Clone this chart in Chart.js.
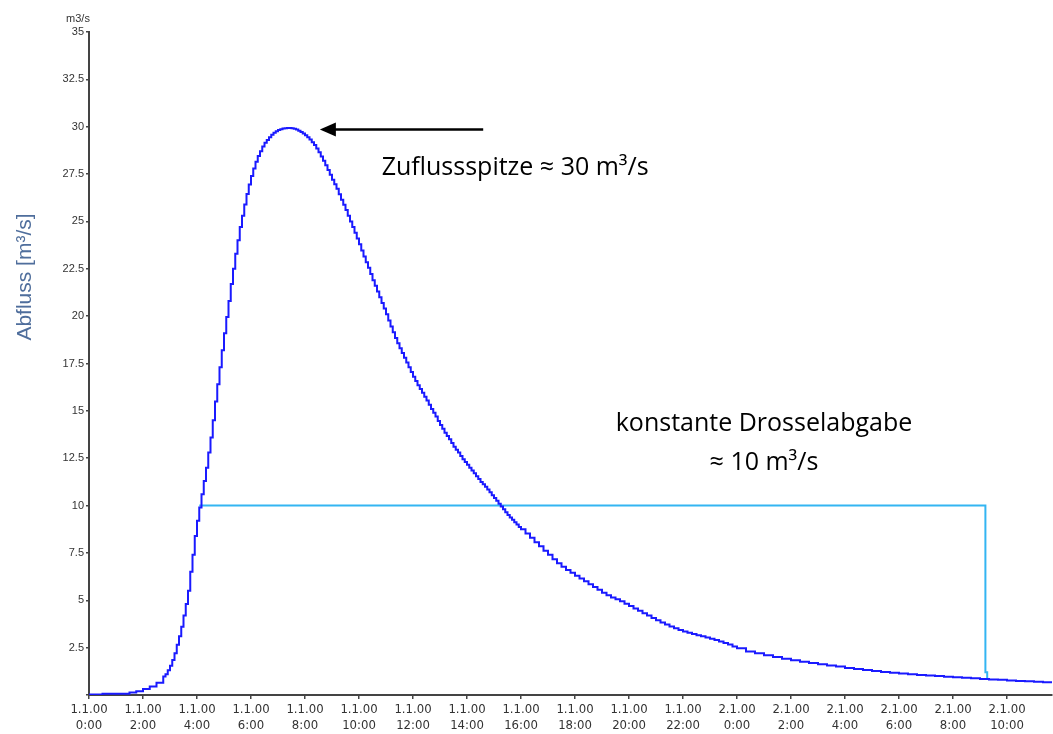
<!DOCTYPE html>
<html>
<head>
<meta charset="utf-8">
<script src="https://cdn.jsdelivr.net/npm/chart.js@4"></script>
<style>
  html, body { margin: 0; padding: 0; background: #fff; }
  #wrap { width: 1053px; height: 734px; }
</style>
</head>
<body>
<div id="wrap"><canvas id="myChart" width="1053" height="734"></canvas></div>
<script>
// Zeit in Minuten ab 1.1.00 0:00
const inflowMin = [
    0, 30, 60, 90, 105, 120, 135, 150, 165,
    170, 175, 180, 185, 190, 195, 200, 205, 210, 215, 220, 225, 230, 235, 240,
    245, 250, 255, 260, 265, 270, 275, 280, 285, 290, 295, 300,
    305, 310, 315, 320, 325, 330, 335, 340, 345, 350, 355, 360,
    365, 370, 375, 380, 385, 390, 395, 400, 405, 410, 415, 420,
    425, 430, 435, 440, 445, 450, 455, 460, 465, 470, 475, 480,
    485, 490, 495, 500, 505, 510, 515, 520, 525, 530, 535, 540,
    545, 550, 555, 560, 565, 570, 575, 580, 585, 590, 595, 600,
    605, 610, 615, 620, 625, 630, 635, 640, 645, 650, 655, 660,
    665, 670, 675, 680, 685, 690, 695, 700, 705, 710, 715, 720,
    725, 730, 735, 740, 745, 750, 755, 760, 765, 770, 775, 780,
    785, 790, 795, 800, 805, 810, 815, 820, 825, 830, 835, 840,
    845, 850, 855, 860, 865, 870, 875, 880, 885, 890, 895, 900,
    905, 910, 915, 920, 925, 930, 935, 940, 945, 950, 955, 960,
    970, 980, 990, 1000, 1010, 1020,
    1030, 1040, 1050, 1060, 1070, 1080,
    1090, 1100, 1110, 1120, 1130, 1140,
    1150, 1160, 1170, 1180, 1190, 1200,
    1210, 1220, 1230, 1240, 1250, 1260,
    1270, 1280, 1290, 1300, 1310, 1320,
    1330, 1340, 1350, 1360, 1370, 1380,
    1390, 1400, 1410, 1420, 1430, 1440,
    1460, 1480, 1500, 1520, 1540, 1560,
    1580, 1600, 1620, 1640, 1660, 1680,
    1700, 1720, 1740, 1760, 1780, 1800,
    1820, 1840, 1860, 1880, 1900, 1920,
    1940, 1960, 1980, 2000, 2020, 2040,
    2060, 2080, 2100, 2120, 2140
];
// Zufluss [m3/s]
const inflow = [
    0.02, 0.06, 0.07, 0.13, 0.2, 0.32, 0.45, 0.65, 0.98,
    1.1, 1.3, 1.55, 1.85, 2.2, 2.65, 3.1, 3.6, 4.2, 4.8, 5.5, 6.5, 7.4, 8.4, 9.2,
    9.9, 10.6, 11.3, 12.0, 12.8, 13.6, 14.5, 15.5, 16.4, 17.3, 18.2, 19.1,
    19.95, 20.8, 21.7, 22.5, 23.3, 24.0, 24.7, 25.3, 25.9, 26.45, 26.95, 27.4,
    27.8, 28.15, 28.45, 28.7, 28.95, 29.15, 29.3, 29.45, 29.57, 29.68, 29.76, 29.83,
    29.87, 29.9, 29.92, 29.93, 29.93, 29.92, 29.89, 29.85, 29.79, 29.72, 29.64, 29.55,
    29.44, 29.32, 29.18, 29.03, 28.85, 28.65, 28.43, 28.2, 27.96, 27.72, 27.46, 27.2,
    26.96, 26.72, 26.44, 26.15, 25.88, 25.6, 25.3, 25.0, 24.7, 24.4, 24.1, 23.8,
    23.47, 23.15, 22.85, 22.55, 22.22, 21.9, 21.6, 21.3, 21.0, 20.7, 20.4, 20.1,
    19.77, 19.45, 19.15, 18.85, 18.57, 18.3, 18.05, 17.8, 17.55, 17.3, 17.05, 16.8,
    16.57, 16.35, 16.15, 15.95, 15.75, 15.55, 15.32, 15.1, 14.9, 14.7, 14.47, 14.25,
    14.05, 13.85, 13.67, 13.5, 13.3, 13.1, 12.95, 12.8, 12.62, 12.45, 12.3, 12.15,
    12.0, 11.85, 11.7, 11.55, 11.4, 11.25, 11.12, 11.0, 10.85, 10.7, 10.55, 10.4,
    10.25, 10.1, 9.95, 9.8, 9.65, 9.5, 9.37, 9.25, 9.12, 9.0, 8.87, 8.75,
    8.52, 8.3, 8.07, 7.85, 7.62, 7.4,
    7.17, 6.95, 6.77, 6.6, 6.45, 6.3,
    6.15, 6.0, 5.85, 5.7, 5.55, 5.4,
    5.27, 5.15, 5.05, 4.95, 4.82, 4.7,
    4.57, 4.45, 4.32, 4.2, 4.07, 3.95,
    3.83, 3.72, 3.62, 3.52, 3.43, 3.35,
    3.28, 3.22, 3.16, 3.1, 3.03, 2.97,
    2.9, 2.82, 2.74, 2.66, 2.56, 2.47,
    2.3, 2.2, 2.1, 2.0, 1.92, 1.84,
    1.76, 1.69, 1.62, 1.56, 1.5, 1.43,
    1.37, 1.32, 1.27, 1.22, 1.18, 1.14,
    1.1, 1.06, 1.03, 1.0, 0.97, 0.94,
    0.91, 0.88, 0.85, 0.82, 0.8, 0.77,
    0.74, 0.72, 0.7, 0.67, 0.64
];
// Drosselabgabe
const outflowMin = [245, 1992, 1996];
const outflow = [10, 1.2, 0.82];

// Achsen
const xMax = 2140;
const dayLabels = ['1.1.00', '2.1.00'];
const yTicksStep = 2.5;

const toPoints = (xs, ys) => xs.map((x, i) => ({ x: x, y: ys[i] }));

const labelsPlugin = {
    id: 'labels',
    afterDraw(chart) {
        const ctx = chart.ctx;
        const x = chart.scales.x, y = chart.scales.y;
        ctx.save();
        // Einheit oben
        ctx.fillStyle = '#333';
        ctx.font = '11px "Liberation Sans", Arial, sans-serif';
        ctx.textAlign = 'center';
        ctx.textBaseline = 'alphabetic';
        ctx.fillText('m3/s', 78, 22);
        // Achsentitel
        ctx.save();
        ctx.translate(25, 277);
        ctx.rotate(-Math.PI / 2);
        ctx.fillStyle = '#4f6e9c';
        ctx.font = '21px "Liberation Sans", Arial, sans-serif';
        ctx.textBaseline = 'middle';
        ctx.fillText('Abfluss [m³/s]', 0, 0);
        ctx.restore();
        // Pfeil
        const ax0 = x.getPixelForValue(876), ax1 = x.getPixelForValue(513);
        const ay = y.getPixelForValue(29.85);
        ctx.strokeStyle = '#000';
        ctx.fillStyle = '#000';
        ctx.lineWidth = 2.5;
        ctx.beginPath();
        ctx.moveTo(ax0, ay);
        ctx.lineTo(ax1 + 14, ay);
        ctx.stroke();
        ctx.beginPath();
        ctx.moveTo(ax1, ay);
        ctx.lineTo(ax1 + 16, ay - 7);
        ctx.lineTo(ax1 + 16, ay + 7);
        ctx.closePath();
        ctx.fill();
        // Texte
        ctx.font = '25px "Open Sans", "Noto Sans", sans-serif';
        ctx.textAlign = 'center';
        ctx.textBaseline = 'middle';
        ctx.fillText('Zuflussspitze ≈ 30 m³/s', x.getPixelForValue(947), y.getPixelForValue(27.85));
        ctx.fillText('konstante Drosselabgabe', x.getPixelForValue(1500), y.getPixelForValue(14.3));
        ctx.fillText('≈ 10 m³/s', x.getPixelForValue(1500), y.getPixelForValue(12.25));
        ctx.restore();
    }
};

const data = {
    datasets: [
        {
            label: 'Zufluss',
            data: toPoints(inflowMin, inflow),
            borderColor: '#1a1aff',
            borderWidth: 2,
            stepped: true,
            pointRadius: 0,
        },
        {
            label: 'Drosselabgabe',
            data: toPoints(outflowMin, outflow),
            borderColor: '#33b5f2',
            borderWidth: 2,
            stepped: true,
            pointRadius: 0,
        },
    ],
};

const config = {
    type: 'line',
    data: data,
    options: {
        responsive: false,
        animation: false,
        layout: { padding: { top: 32, right: 1, left: 0, bottom: 0 } },
        plugins: { legend: { display: false }, tooltip: { enabled: false } },
        scales: {
            x: {
                type: 'linear',
                min: 0,
                max: xMax,
                afterFit: s => { s.height = 39; },
                afterBuildTicks: s => {
                    s.ticks = [];
                    for (let v = 0; v <= xMax; v += 120) s.ticks.push({ value: v });
                },
                border: { color: '#444', width: 2 },
                grid: { drawOnChartArea: false, tickLength: 4, color: '#444', lineWidth: 1.5 },
                ticks: {
                    maxRotation: 0,
                    autoSkip: false,
                    padding: 3,
                    color: '#333',
                    font: { family: '"Liberation Sans Narrow", "DejaVu Sans Condensed", sans-serif', size: 13, lineHeight: 1.2 },
                    callback: v => {
                        const h = v / 60;
                        return [dayLabels[Math.floor(h / 24)], (h % 24) + ':00'];
                    },
                },
            },
            y: {
                min: 0,
                max: 35,
                afterFit: s => { s.width = 89; },
                border: { color: '#444', width: 2 },
                grid: { drawOnChartArea: false, tickLength: 3, color: '#444', lineWidth: 1.5 },
                ticks: {
                    stepSize: yTicksStep,
                    padding: 2,
                    color: '#333',
                    font: { family: '"Liberation Sans", Arial, sans-serif', size: 11 },
                    callback: v => (v === 0 ? '' : v),
                },
            },
        },
    },
    plugins: [labelsPlugin],
};

var ctx = document.getElementById('myChart').getContext('2d');
var myChart = new Chart(ctx, config);
</script>
</body>
</html>
